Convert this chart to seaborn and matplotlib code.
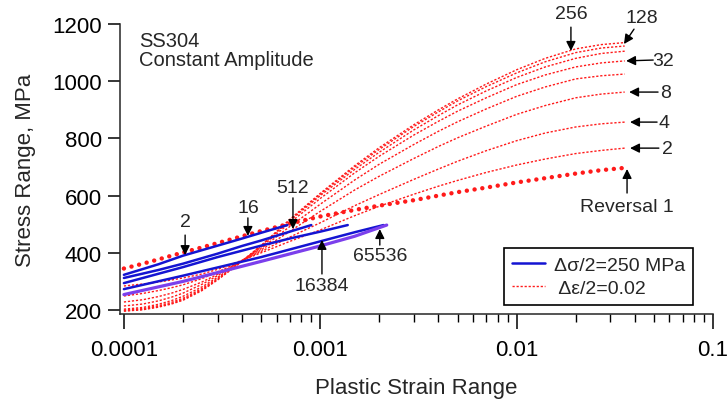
import numpy as np
import pandas as pd
import matplotlib
matplotlib.use("Agg")
import matplotlib.pyplot as plt
import seaborn as sns

# ---------------- data ----------------
strain_grid = [1e-4, 1.25e-4, 1.5e-4, 1.75e-4, 2e-4, 2.5e-4, 3e-4, 4e-4, 5e-4, 7e-4,
               1e-3, 1.5e-3, 2e-3, 3e-3, 4e-3, 5e-3, 7e-3, 1e-2, 1.4e-2, 2e-2,
               2.7e-2, 3.55e-2]

reversal_1 = [345, 362, 377, 390, 401, 419, 434, 458, 476, 502,
              527, 550, 565, 584, 600, 612, 628, 646, 661, 677, 689, 697]

strain_reversals = ["2", "4", "8", "16", "32", "64", "128", "256"]
rev_2   = [284, 291, 298, 305, 312, 326, 342, 374, 400, 440,
           480, 530, 563, 605, 633, 653, 681, 707, 728, 747, 758, 766]
rev_4   = [249, 258, 268, 278, 288, 310, 333, 372, 405, 455,
           505, 565, 604, 657, 693, 720, 757, 792, 819, 840, 851, 857]
rev_8   = [228, 236, 247, 259, 272, 298, 325, 372, 410, 475,
           545, 620, 668, 730, 772, 802, 843, 884, 915, 942, 955, 962]
rev_16  = [214, 221, 232, 245, 259, 290, 320, 373, 415, 492,
           570, 655, 710, 779, 825, 858, 903, 947, 980, 1008, 1019, 1025]
rev_32  = [203, 209, 220, 233, 248, 281, 314, 372, 420, 505,
           590, 680, 738, 812, 860, 895, 942, 988, 1022, 1050, 1064, 1071]
rev_64  = [200, 205, 215, 227, 241, 275, 310, 372, 424, 512,
           600, 692, 752, 830, 880, 917, 966, 1013, 1050, 1080, 1097, 1105]
rev_128 = [197, 202, 212, 223, 237, 271, 307, 371, 425, 515,
           605, 700, 762, 842, 893, 931, 981, 1029, 1068, 1100, 1116, 1123]
rev_256 = [196, 201, 210, 221, 234, 268, 305, 370, 425, 517,
           608, 705, 768, 848, 900, 938, 990, 1040, 1080, 1113, 1128, 1135]
strain_curves = [rev_2, rev_4, rev_8, rev_16, rev_32, rev_64, rev_128, rev_256]

# stress-controlled (delta sigma / 2 = 250 MPa) reversals
s2_x = [1e-4, 1.5e-4, 2e-4, 3e-4, 4e-4, 5e-4, 6.8e-4]
s2_y = [323, 360, 390, 425, 450, 470, 497]
s16_x = [1e-4, 1.5e-4, 2e-4, 3e-4, 4e-4, 5e-4, 7e-4, 9e-4]
s16_y = [312, 340, 362, 397, 424, 443, 474, 497]
s512_x = [1e-4, 2e-4, 3e-4, 5e-4, 7e-4, 1e-3, 1.38e-3]
s512_y = [294, 350, 385, 425, 450, 474, 497]
s16384_x = [1e-4, 2e-4, 5e-4, 1e-3, 1.5e-3, 2.1e-3]
s16384_y = [273, 320, 385, 440, 472, 497]
s65536_x = [1e-4, 2e-4, 5e-4, 1e-3, 1.5e-3, 2.18e-3]
s65536_y = [254, 300, 370, 424, 458, 497]

x_tick_values = [1e-4, 1e-3, 1e-2, 1e-1]
x_tick_labels = ["0.0001", "0.001", "0.01", "0.1"]
y_tick_values = [200, 400, 600, 800, 1000, 1200]

# ---------------- style ----------------
sns.set_theme(style="ticks")
plt.rcParams["font.family"] = ["Liberation Sans", "DejaVu Sans"]
plt.rcParams["axes.linewidth"] = 1.1

fig = plt.figure(figsize=(7.28, 4.02), dpi=100)
ax = fig.add_axes([0.1648, 0.2164, 0.8146, 0.7214])

red = "#ff1a1a"
blue = "#1414d2"
purple = "#7b3fec"

# thin dotted strain-controlled curves
for name, ys in zip(strain_reversals, strain_curves):
    df = pd.DataFrame({"x": strain_grid, "y": ys})
    sns.lineplot(data=df, x="x", y="y", ax=ax, color=red, lw=1.0,
                 estimator=None, sort=False)
    ax.lines[-1].set_dashes((1.6, 1.3))

# reversal 1 thick dotted
df = pd.DataFrame({"x": strain_grid, "y": reversal_1})
sns.lineplot(data=df, x="x", y="y", ax=ax, color=red, lw=3.2,
             estimator=None, sort=False)
ax.lines[-1].set_dashes((0.01, 1.75))
ax.lines[-1].set_dash_capstyle("round")

# stress-controlled solid lines
stress_sets = [(s2_x, s2_y, blue, 1.8), (s16_x, s16_y, blue, 1.8),
               (s512_x, s512_y, blue, 1.8), (s16384_x, s16384_y, blue, 1.8),
               (s65536_x, s65536_y, purple, 2.3)]
for xs, ys, c, w in stress_sets:
    df = pd.DataFrame({"x": xs, "y": ys})
    sns.lineplot(data=df, x="x", y="y", ax=ax, color=c, lw=w,
                 estimator=None, sort=False)

ax.set_xscale("log")
ax.set_xlim(9.55e-5, 0.1)
ax.set_ylim(186, 1200)
ax.set_xticks(x_tick_values)
ax.set_xticklabels(x_tick_labels)
ax.set_yticks(y_tick_values)
ax.xaxis.set_minor_locator(matplotlib.ticker.LogLocator(base=10, subs=np.arange(2, 10)))
ax.xaxis.set_minor_formatter(matplotlib.ticker.NullFormatter())
ax.tick_params(axis="y", which="major", direction="out", length=9, width=1.1,
               labelsize=16, color="black", labelcolor="black", pad=4)
ax.tick_params(axis="x", which="major", direction="out", length=11, width=1.1,
               labelsize=16, color="black", labelcolor="black", pad=7)
ax.tick_params(axis="x", which="minor", direction="out", length=6, width=1.0, color="black")
sns.despine(ax=ax)
ax.set_xlabel("Plastic Strain Range", fontsize=16, labelpad=12)
ax.set_ylabel("Stress Range, MPa", fontsize=16, labelpad=12)

ax.text(0.032, 0.975, "SS304\nConstant Amplitude", transform=ax.transAxes,
        fontsize=14.5, va="top", ha="left", linespacing=1.0)

# annotations: (label, text xy, arrow tail xy, arrow tip xy)
annotations = [
    ("256", (0.0189, 1235), (0.0189, 1189), (0.0189, 1106)),
    ("128", (0.0436, 1224), (0.0396, 1182), (0.0352, 1130)),
    ("32", (0.0557, 1074), (0.0496, 1074), (0.0361, 1071)),
    ("8", (0.0570, 962), (0.0525, 962), (0.0374, 962)),
    ("4", (0.0564, 857), (0.0519, 857), (0.0378, 857)),
    ("2", (0.0584, 766), (0.0530, 766), (0.0378, 766)),
    ("Reversal 1", (0.0365, 563), (0.0365, 609), (0.0365, 693)),
    ("2", (2.05e-4, 508), (2.05e-4, 462), (2.05e-4, 392)),
    ("16", (4.28e-4, 560), (4.28e-4, 522), (4.28e-4, 459)),
    ("512", (7.26e-4, 630), (7.26e-4, 592), (7.26e-4, 483)),
    ("16384", (1.02e-3, 287), (1.02e-3, 326), (1.02e-3, 445)),
    ("65536", (2.01e-3, 389), (2.01e-3, 427), (2.01e-3, 483)),
]
for label, txy, tail, tip in annotations:
    ax.text(txy[0], txy[1], label, fontsize=14, ha="center", va="center",
            clip_on=False)
    ax.annotate("", xy=tip, xytext=tail,
                arrowprops=dict(arrowstyle="-|>", color="black", lw=1.0,
                                mutation_scale=14, shrinkA=0, shrinkB=0),
                annotation_clip=False)

handles = [ax.lines[9], ax.lines[0]]
leg = ax.legend(handles, ["\u0394\u03c3/2=250 MPa", " \u0394\u03b5/2=0.02"],
                loc="lower right", bbox_to_anchor=(0.966, 0.031),
                borderaxespad=0, fontsize=14, fancybox=False, framealpha=1,
                edgecolor="black", handlelength=1.7, handletextpad=0.45,
                borderpad=0.4, labelspacing=0.3)
leg.get_frame().set_linewidth(1.2)
leg.legend_handles[0].set_linewidth(1.8)

fig.savefig("out.png", dpi=100)
